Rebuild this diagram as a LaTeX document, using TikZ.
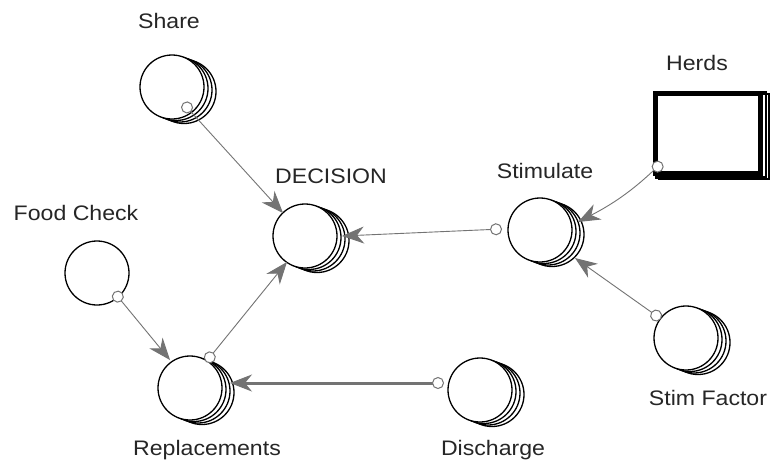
\documentclass[tikz,border=0pt]{standalone}
\usepackage{fontspec}
\setmainfont{Liberation Sans}
\usetikzlibrary{arrows.meta,calc}
\tikzset{
  conv/.style={circle, draw=black, line width=1.3pt, fill=white, minimum size=64pt, inner sep=0pt},
  stk/.style={draw=black, line width=1.3pt, fill=white},
  lbl/.style={anchor=base, font=\fontsize{21}{24}\selectfont, text=black!85, xscale=1.1},
  conn/.style={draw=black!55, line width=0.9pt,
    {Circle[open,fill=white,line width=1pt,length=12pt,width=12pt]}-{Stealth[length=22pt,width=17pt,inset=7pt]}},
  thickconn/.style={conn, line width=3pt,
    {Circle[open,fill=white,line width=1pt,length=12pt,width=12pt]}-{Stealth[length=22pt,width=17pt,inset=7pt,line width=1pt]}},
}
\newcommand{\convstack}[3]{%
  \foreach \d in {3,2,1} {\draw[stk] (#2+4*\d, #3+1.5*\d) circle[radius=32pt];}
  \node[conv] (#1) at (#2,#3) {};}
\begin{document}
\begin{tikzpicture}[x=1pt,y=-1pt]
\useasboundingbox[fill=white] (0,0) rectangle (775,461);
% converters
\convstack{share}{172}{87}
\convstack{dec}{305}{236}
\convstack{stim}{540}{230}
\convstack{rep}{190}{388}
\convstack{dis}{480}{390}
\convstack{sf}{686}{338}
\node[conv] (food) at (97,273) {};
% stock
\foreach \d in {2,1} {\draw[line width=2.5pt] (653+3*\d, 91+1.5*\d) rectangle (763+3*\d,176+1.5*\d);}
\node[draw, line width=5pt, fill=white, minimum width=105pt, minimum height=80pt, inner sep=0pt] (herds) at (708,133.5) {};
% labels
\node[lbl] (lshare) at (169,28) {Share};
\node[lbl] (ldec) at (331,183) {DECISION};
\node[lbl] (lstim) at (545,178) {Stimulate};
\node[lbl] (lherds) at (697,70) {Herds};
\node[lbl] (lfood) at (76,220) {Food Check};
\node[lbl] (lrep) at (207,455) {Replacements};
\node[lbl] (ldis) at (493,455) {Discharge};
\node[lbl] (lsf) at (708,405) {Stim Factor};
% connectors
\draw[conn] ([shift={(11,16)}]share.center) -- ([shift={(-22,-23)}]dec.center);
\draw[conn] ([shift={(16,-26)}]rep.center) -- ([shift={(-18,26)}]dec.center);
\draw[conn] ([shift={(17,19)}]food.center) -- ([shift={(-20,-28)}]rep.center);
\draw[thickconn] ([shift={(-36,-7)}]dis.center) -- ([shift={(40,-5)}]rep.center);
\draw[conn] ([shift={(-38,-1)}]stim.center) -- ([shift={(37,0)}]dec.center);
\draw[conn] ([shift={(-46,29)}]herds.center) to[bend left=8] ([shift={(38,-8)}]stim.center);
\draw[conn] ([shift={(-25,-19)}]sf.center) -- ([shift={(35,28)}]stim.center);
\end{tikzpicture}
\end{document}
